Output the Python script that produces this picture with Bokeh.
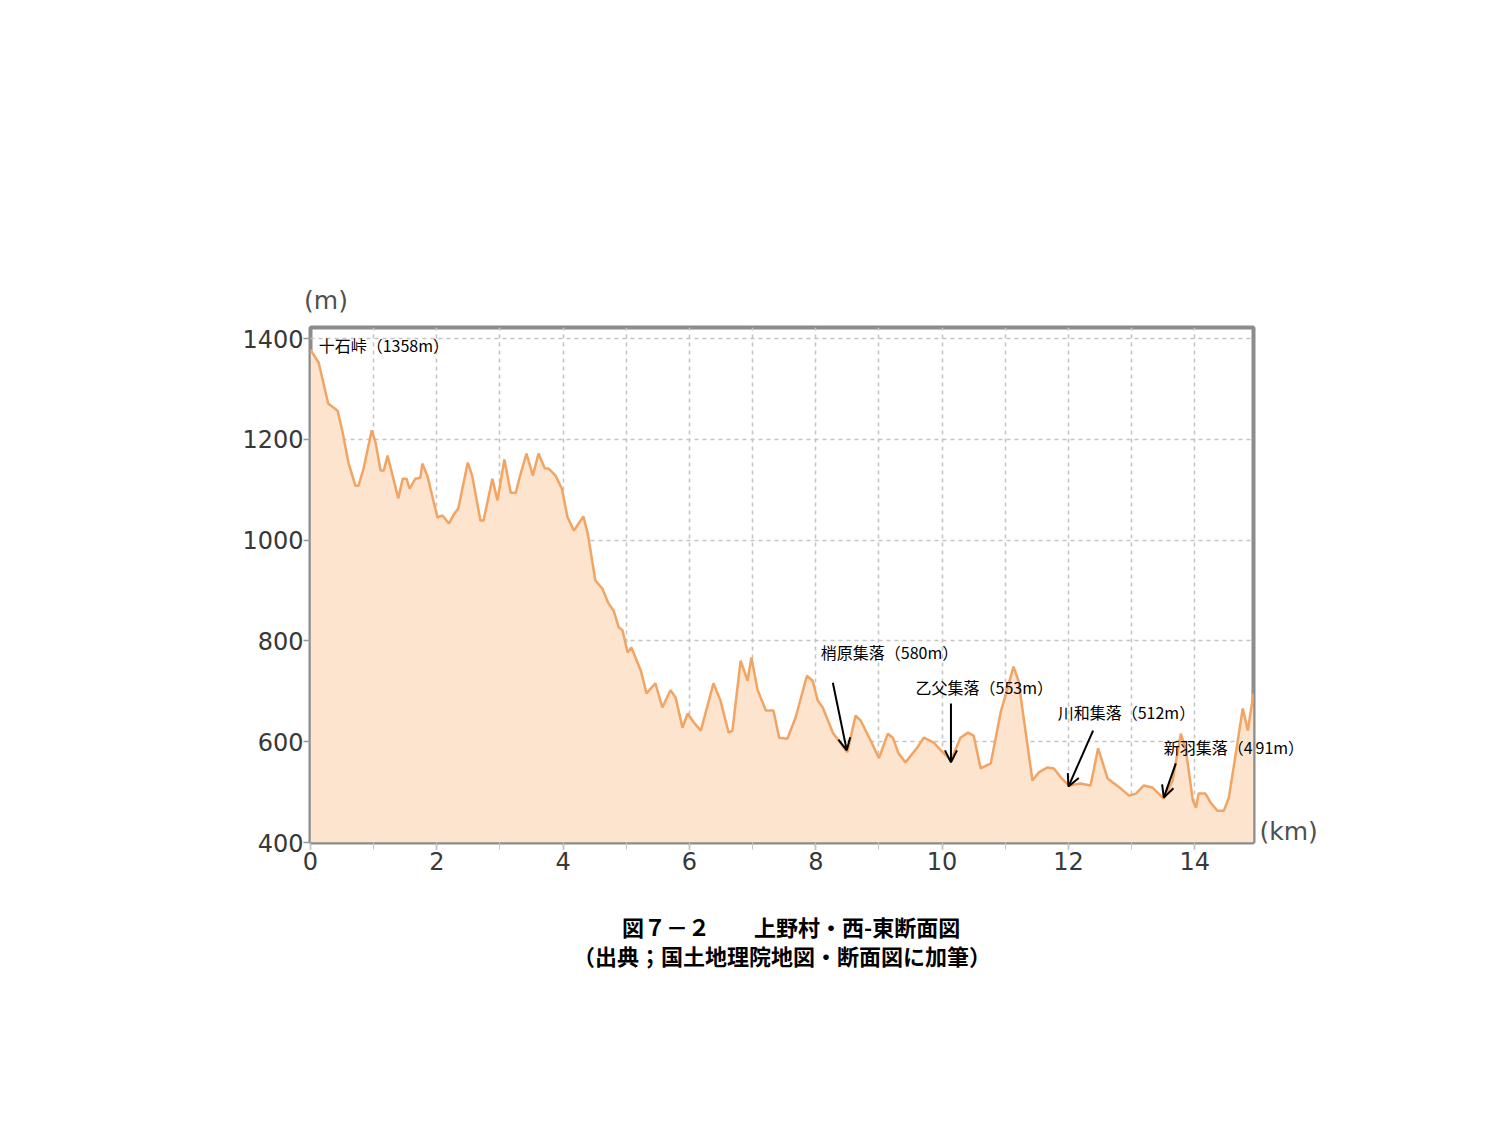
from bokeh.plotting import figure
from bokeh.models import (Label, Arrow, OpenHead, SingleIntervalTicker, FixedTicker,
                          Range1d, LinearAxis, Title)
from bokeh.embed import file_html
from bokeh.resources import INLINE

# ---- data ----
km = [0.00, 0.13, 0.28, 0.43, 0.51, 0.60, 0.71, 0.76, 0.84, 0.97, 1.03, 1.11, 1.16, 1.22,
      1.30, 1.39, 1.46, 1.52, 1.57, 1.66, 1.74, 1.77, 1.85, 2.01, 2.09, 2.19, 2.28, 2.34,
      2.49, 2.56, 2.69, 2.74, 2.88, 2.96, 3.07, 3.17, 3.25, 3.31, 3.42, 3.52, 3.61, 3.71,
      3.77, 3.88, 3.98, 4.07, 4.17, 4.32, 4.39, 4.51, 4.62, 4.72, 4.80, 4.88, 4.94, 5.02,
      5.08, 5.23, 5.32, 5.46, 5.57, 5.70, 5.78, 5.89, 5.97, 6.07, 6.18, 6.38, 6.49, 6.62,
      6.68, 6.81, 6.92, 6.98, 7.08, 7.21, 7.33, 7.42, 7.55, 7.68, 7.86, 7.95, 8.03, 8.11,
      8.27, 8.50, 8.63, 8.71, 8.87, 9.00, 9.14, 9.22, 9.31, 9.42, 9.61, 9.71, 9.87, 9.98,
      10.14, 10.29, 10.41, 10.50, 10.61, 10.77, 10.93, 11.04, 11.13, 11.21, 11.29, 11.43,
      11.53, 11.67, 11.77, 11.88, 12.01, 12.19, 12.35, 12.47, 12.54, 12.62, 12.83, 12.96,
      13.07, 13.19, 13.33, 13.51, 13.65, 13.78, 13.86, 13.97, 14.02, 14.06, 14.17, 14.25,
      14.36, 14.46, 14.54, 14.65, 14.76, 14.84, 14.93]
elev = [1378, 1352, 1271, 1257, 1213, 1154, 1108, 1108, 1142, 1218, 1194, 1138, 1138, 1168,
        1128, 1083, 1122, 1122, 1102, 1122, 1124, 1152, 1128, 1045, 1049, 1033, 1053, 1063,
        1154, 1128, 1039, 1039, 1122, 1079, 1160, 1094, 1094, 1124, 1172, 1128, 1172, 1142,
        1142, 1128, 1102, 1045, 1019, 1047, 1013, 920, 904, 874, 860, 827, 821, 777,
        787, 741, 696, 716, 668, 702, 688, 628, 656, 638, 622, 716, 682, 618,
        622, 761, 721, 767, 702, 662, 662, 608, 606, 648, 731, 721, 682, 668,
        618, 579, 652, 642, 602, 567, 616, 608, 577, 559, 589, 608, 598, 583,
        563, 608, 618, 612, 547, 557, 660, 708, 749, 721, 648, 523,
        539, 549, 547, 529, 513, 517, 513, 587, 559, 527, 507, 493,
        497, 513, 509, 487, 523, 616, 583, 483, 469, 497, 497, 479,
        463, 463, 489, 577, 666, 622, 696]

y_ticks = [400, 600, 800, 1000, 1200, 1400]
x_ticks = [0, 2, 4, 6, 8, 10, 12, 14]
y_unit = "(m)"
x_unit = "(km)"

# annotations: text, label anchor (km, m), arrow start, arrow end
peak_text = "十石峠（1358m）"
peak_pos = (0.13, 1388)
villages = ["梢原集落（580m）", "乙父集落（553m）", "川和集落（512m）", "新羽集落（4"]
village_tail = "91m）"          # part of the last label that runs past the frame
village_label_km = [8.08, 9.58, 11.83, 13.51]
village_label_m = [779, 708, 658, 590]
arrow_start_km = [8.27, 10.14, 12.39, 13.70]
arrow_start_m = [717, 676, 622, 557]
arrow_end_km = [8.49, 10.14, 12.00, 13.51]
arrow_end_m = [583, 559, 511, 489]

title1 = "図７－２　　上野村・西-東断面図"
title2 = "（出典；国土地理院地図・断面図に加筆）"

jp = "Noto Sans CJK JP"

# ---- figure ----
p = figure(width=1484, height=1060, output_backend="svg", toolbar_location=None,
           x_range=Range1d(0, 14.93), y_range=Range1d(400, 1422),
           frame_width=943, frame_height=515,
           min_border_left=310, min_border_top=327, min_border_right=200,
           min_border_bottom=150)
p.background_fill_color = "white"
p.border_fill_color = "white"
p.outline_line_color = "#8c8c8c"
p.outline_line_width = 4

p.varea(x=km, y1=400, y2=elev, fill_color="#fce4cf", fill_alpha=1.0)
p.line(x=km, y=elev, line_color="#f2a462", line_width=2.5)

# grids
p.xgrid.ticker = SingleIntervalTicker(interval=1)
p.ygrid.ticker = FixedTicker(ticks=y_ticks)
for g in (p.xgrid, p.ygrid):
    g.grid_line_color = "#c4c4c4"
    g.grid_line_dash = "4 4"
    g.grid_line_width = 1.6

# axes
xa = p.below[0]
ya = p.left[0]
xa.ticker = FixedTicker(ticks=x_ticks, minor_ticks=list(range(0, 16)))
ya.ticker = FixedTicker(ticks=y_ticks)
for ax in (xa, ya):
    ax.axis_line_color = None
    ax.major_tick_line_color = "#9a9a9a"
    ax.major_tick_line_width = 1.5
    ax.major_tick_in = 0
    ax.major_tick_out = 7
    ax.major_label_text_font = "DejaVu Sans"
    ax.major_label_text_font_size = "24px"
    ax.major_label_text_color = "#383838"
xa.minor_tick_line_color = "#c4c4c4"
xa.minor_tick_out = 7
xa.minor_tick_in = 0
ya.minor_tick_line_color = None
xa.major_label_standoff = 2
ya.major_label_standoff = 0

# unit labels and overflowing text as helper axes outside the frame
def helper_axis(ticks, labels, font, size, color, standoff):
    ax = LinearAxis(ticker=FixedTicker(ticks=ticks),
                    major_label_overrides=dict(zip(ticks, labels)))
    ax.axis_line_color = None
    ax.major_tick_line_color = None
    ax.minor_tick_line_color = None
    ax.major_tick_out = 0
    ax.major_tick_in = 0
    ax.major_label_text_font = font
    ax.major_label_text_font_size = size
    ax.major_label_text_color = color
    ax.major_label_standoff = standoff
    return ax

p.add_layout(helper_axis([0.245], [y_unit], "DejaVu Sans", "25px", "#505050", 13), "above")
p.add_layout(helper_axis([village_label_m[3]], [village_tail], jp, "16px", "black", 2), "right")
p.add_layout(helper_axis([422], [x_unit], "DejaVu Sans", "25px", "#505050", -48), "right")

p.add_layout(Label(x=peak_pos[0], y=peak_pos[1], text=peak_text, text_font=jp,
                   text_font_size="16px", text_color="black", text_baseline="middle"))
for t, lx, ly, sx, sy, ex, ey in zip(villages, village_label_km, village_label_m,
                                     arrow_start_km, arrow_start_m, arrow_end_km, arrow_end_m):
    p.add_layout(Label(x=lx, y=ly, text=t, text_font=jp, text_font_size="16px",
                       text_color="black", text_baseline="middle"))
    p.add_layout(Arrow(x_start=sx, y_start=sy, x_end=ex, y_end=ey, line_width=2,
                       line_color="black",
                       end=OpenHead(size=12, line_width=2, line_color="black")))

# chart title below (two lines)
t = Title(text="　　 " + title1 + "\n" + title2, align="center", offset=9, standoff=71,
          text_font=jp, text_font_style="bold", text_font_size="22px",
          text_color="black", text_line_height=0.91)
p.add_layout(t, "below")

open("out.html", "w").write(file_html(p, INLINE))
